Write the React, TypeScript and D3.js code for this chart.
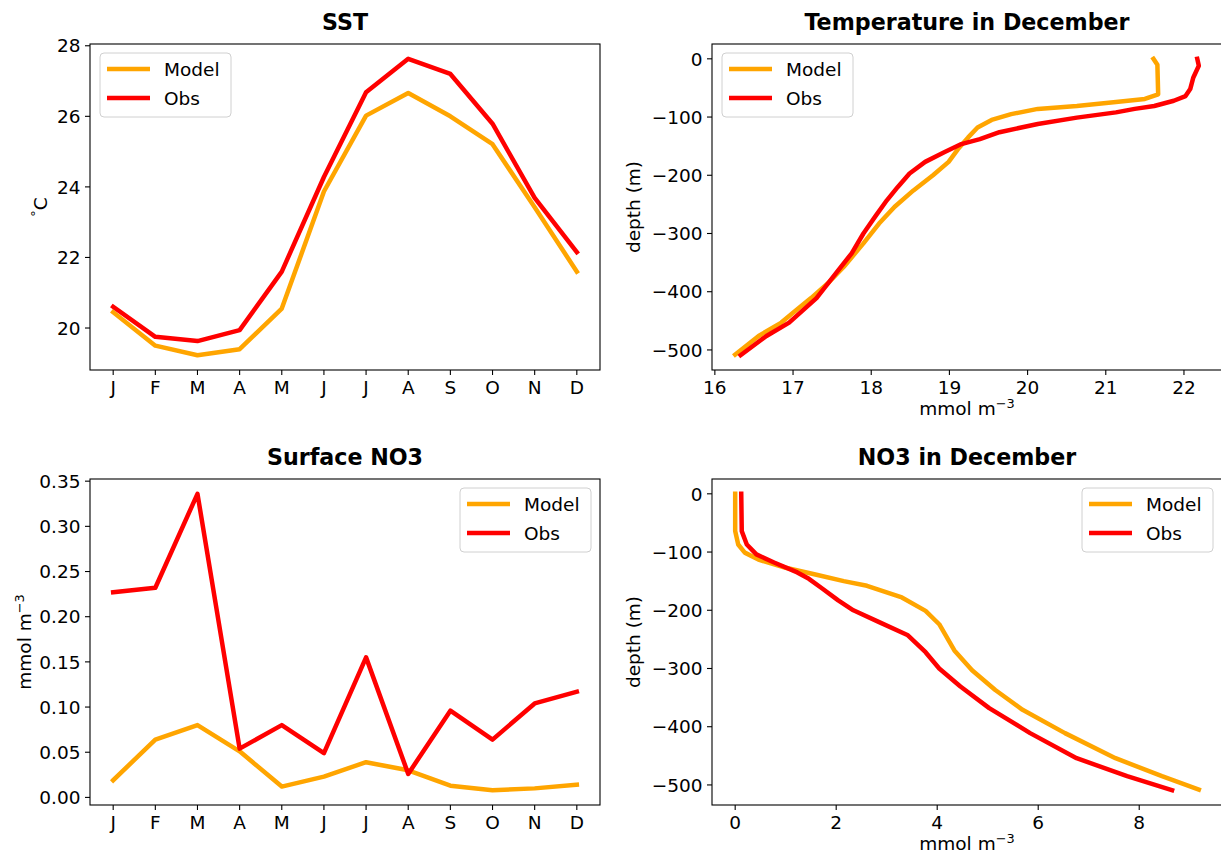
import React from "react";
import * as d3 from "d3";

// ---------- data ----------
const months = ["J", "F", "M", "A", "M", "J", "J", "A", "S", "O", "N", "D"];
const sstModel = [20.45, 19.5, 19.23, 19.4, 20.55, 23.87, 26.02, 26.66, 26.0, 25.21, 23.42, 21.6];
const sstObs = [20.6, 19.75, 19.63, 19.94, 21.6, 24.28, 26.68, 27.63, 27.2, 25.79, 23.69, 22.15];

const no3Model = [0.019, 0.064, 0.08, 0.051, 0.012, 0.023, 0.039, 0.03, 0.013, 0.008, 0.01, 0.014];
const no3Obs = [0.227, 0.232, 0.336, 0.054, 0.08, 0.049, 0.155, 0.026, 0.096, 0.064, 0.104, 0.117];

const tempModel = [21.61, 21.66, 21.67, 21.5, 21.13, 20.63, 20.13, 19.79, 19.54, 19.36, 19.24, 19.11, 18.99, 18.79, 18.54, 18.3, 18.1, 17.9, 17.65, 17.45, 17.23, 17.0, 16.85, 16.56, 16.26];
const tempModelDepth = [0, -10, -61, -69, -74, -81, -86, -95, -105, -118, -135, -155, -177, -200, -226, -254, -283, -317, -357, -385, -411, -436, -453, -476, -508];
const tempObs = [22.17, 22.19, 22.12, 22.08, 22.02, 21.87, 21.62, 21.37, 21.13, 20.63, 20.13, 19.64, 19.39, 19.14, 18.94, 18.69, 18.49, 18.34, 18.2, 18.05, 17.9, 17.75, 17.55, 17.3, 16.95, 16.66, 16.33];
const tempObsDepth = [0, -12, -32, -52, -64, -72, -81, -86, -92, -101, -112, -126, -138, -147, -160, -177, -197, -220, -243, -271, -300, -334, -368, -411, -453, -476, -509];

const nitModel = [0.0, 0.0, 0.06, 0.19, 0.46, 1.0, 1.61, 2.15, 2.61, 3.3, 3.77, 4.04, 4.34, 4.69, 5.15, 5.69, 6.53, 7.53, 8.45, 9.18];
const nitModelDepth = [0, -64, -87, -101, -113, -127, -139, -150, -158, -178, -201, -224, -269, -303, -337, -371, -411, -454, -485, -508];
const nitObs = [0.12, 0.13, 0.23, 0.42, 0.77, 1.23, 1.46, 1.73, 2.04, 2.34, 2.84, 3.42, 3.77, 4.04, 4.46, 5.03, 5.84, 6.76, 7.76, 8.65];
const nitObsDepth = [0, -64, -87, -104, -118, -135, -146, -163, -183, -200, -220, -243, -272, -300, -331, -368, -411, -454, -485, -509];

const sstTicks = [20, 22, 24, 26, 28];
const no3Ticks = [0, 0.05, 0.1, 0.15, 0.2, 0.25, 0.3, 0.35];
const depthTicks = [0, -100, -200, -300, -400, -500];
const tempTicks = [16, 17, 18, 19, 20, 21, 22];
const nitTicks = [0, 2, 4, 6, 8];
const seriesNames = ["Model", "Obs"];
const seriesColors = ["#FFA500", "#FF0000"];

// ---------- helpers ----------
const FONT = "DejaVu Sans, Verdana, sans-serif";
const FS = 18.5;
const LW = 4.5;
const minus = (s: string) => s.replace("-", "\u2212");

function padExtent(vals: number[]): [number, number] {
  const [a, b] = d3.extent(vals) as [number, number];
  const m = (b - a) * 0.05;
  return [a - m, b + m];
}

type Pt = [number, number];
type Series = { name: string; color: string; pts: Pt[] };

function Unit({ x, y, anchor = "middle", rotate = false }: any) {
  return (
    <text
      x={x}
      y={y}
      textAnchor={anchor}
      fontSize={FS}
      fontFamily={FONT}
      transform={rotate ? `rotate(-90 ${x} ${y})` : undefined}
    >
      mmol m
      <tspan fontSize={FS * 0.7} dy={-7}>{"\u22123"}</tspan>
    </text>
  );
}

function Panel(props: {
  id: string;
  left: number;
  top: number;
  w: number;
  h: number;
  xs: d3.ScaleLinear<number, number>;
  ys: d3.ScaleLinear<number, number>;
  xTicks: number[];
  xLabels: string[];
  yTicks: number[];
  yLabels: string[];
  series: Series[];
  title: string;
  legend: "left" | "right";
  ylabel: React.ReactNode;
  xlabel?: React.ReactNode;
}) {
  const { id, left, top, w, h, xs, ys, xTicks, xLabels, yTicks, yLabels, series, title, legend } = props;
  const line = d3
    .line<Pt>()
    .x((d) => xs(d[0]))
    .y((d) => ys(d[1]));
  const lw = 131;
  const lh = 64;
  const lx = legend === "left" ? left + 10 : left + w - 9 - lw;
  const ly = top + 9;
  return (
    <g>
      <defs>
        <clipPath id={id}>
          <rect x={left} y={top} width={w} height={h} />
        </clipPath>
      </defs>
      <g clipPath={`url(#${id})`}>
        {series.map((s) => (
          <path
            key={s.name}
            d={line(s.pts) || ""}
            fill="none"
            stroke={s.color}
            strokeWidth={LW}
            strokeLinejoin="round"
            strokeLinecap="square"
          />
        ))}
      </g>
      <rect x={left} y={top} width={w} height={h} fill="none" stroke="#000" strokeWidth={1.1} />
      {xTicks.map((t, i) => (
        <g key={"x" + i}>
          <line x1={xs(t)} x2={xs(t)} y1={top + h} y2={top + h + 5} stroke="#000" strokeWidth={1.1} />
          <text x={xs(t)} y={top + h + 23.5} textAnchor="middle" fontSize={FS} fontFamily={FONT}>
            {xLabels[i]}
          </text>
        </g>
      ))}
      {yTicks.map((t, i) => (
        <g key={"y" + i}>
          <line x1={left - 5} x2={left} y1={ys(t)} y2={ys(t)} stroke="#000" strokeWidth={1.1} />
          <text x={left - 9.5} y={ys(t) + 6.7} textAnchor="end" fontSize={FS} fontFamily={FONT}>
            {yLabels[i]}
          </text>
        </g>
      ))}
      <text x={left + w / 2} y={top - 14} textAnchor="middle" fontSize={FS * 1.2} fontWeight="bold" fontFamily={FONT}>
        {title}
      </text>
      <g>
        <rect x={lx} y={ly} width={lw} height={lh} rx={4} fill="#fff" fillOpacity={0.8} stroke="#d0d0d0" strokeWidth={1} />
        {series.map((s, i) => (
          <g key={"l" + i}>
            <line x1={lx + 7} x2={lx + 50} y1={ly + 16 + i * 29} y2={ly + 16 + i * 29} stroke={s.color} strokeWidth={LW} />
            <text x={lx + 64} y={ly + 16 + i * 29 + 6.7} fontSize={FS} fontFamily={FONT}>
              {s.name}
            </text>
          </g>
        ))}
      </g>
      {props.ylabel}
      {props.xlabel}
    </g>
  );
}

export default function App() {
  const W = 1221;
  const H = 854;
  const colL = 90;
  const colR = 712;
  const rowT = 44;
  const rowB = 479;
  const aw = 510;
  const ah = 326;

  const idx = months.map((_, i) => i);

  const x1 = d3.scaleLinear().domain(padExtent(idx)).range([colL, colL + aw]);
  const y1 = d3.scaleLinear().domain(padExtent([...sstModel, ...sstObs])).range([rowT + ah, rowT]);
  const x3 = d3.scaleLinear().domain(padExtent(idx)).range([colL, colL + aw]);
  const y3 = d3.scaleLinear().domain(padExtent([...no3Model, ...no3Obs])).range([rowB + ah, rowB]);
  const x2 = d3.scaleLinear().domain(padExtent([...tempModel, ...tempObs])).range([colR, colR + aw]);
  const y2 = d3.scaleLinear().domain(padExtent([...tempModelDepth, ...tempObsDepth])).range([rowT + ah, rowT]);
  const x4 = d3.scaleLinear().domain(padExtent([...nitModel, ...nitObs])).range([colR, colR + aw]);
  const y4 = d3.scaleLinear().domain(padExtent([...nitModelDepth, ...nitObsDepth])).range([rowB + ah, rowB]);

  const mk = (a: number[], b: number[]): Pt[] => a.map((v, i) => [v, b[i]] as Pt);
  const sstSeries: Series[] = [
    { name: seriesNames[0], color: seriesColors[0], pts: mk(idx, sstModel) },
    { name: seriesNames[1], color: seriesColors[1], pts: mk(idx, sstObs) },
  ];
  const no3Series: Series[] = [
    { name: seriesNames[0], color: seriesColors[0], pts: mk(idx, no3Model) },
    { name: seriesNames[1], color: seriesColors[1], pts: mk(idx, no3Obs) },
  ];
  const tempSeries: Series[] = [
    { name: seriesNames[0], color: seriesColors[0], pts: mk(tempModel, tempModelDepth) },
    { name: seriesNames[1], color: seriesColors[1], pts: mk(tempObs, tempObsDepth) },
  ];
  const nitSeries: Series[] = [
    { name: seriesNames[0], color: seriesColors[0], pts: mk(nitModel, nitModelDepth) },
    { name: seriesNames[1], color: seriesColors[1], pts: mk(nitObs, nitObsDepth) },
  ];

  const depthLabels = depthTicks.map((d) => minus(String(d)));

  return (
    <svg width={W} height={H} style={{ position: "absolute", left: 0, top: 0, background: "#fff" }}>
      <rect x={0} y={0} width={W} height={H} fill="#fff" />
      <Panel
        id="c1"
        left={colL}
        top={rowT}
        w={aw}
        h={ah}
        xs={x1}
        ys={y1}
        xTicks={idx}
        xLabels={months}
        yTicks={sstTicks}
        yLabels={sstTicks.map(String)}
        series={sstSeries}
        title="SST"
        legend="left"
        ylabel={
          <text x={47} y={rowT + ah / 2} textAnchor="middle" fontSize={FS} fontFamily={FONT} transform={`rotate(-90 47 ${rowT + ah / 2})`}>
            <tspan fontSize={FS * 0.7} dy={-7}>°</tspan>
            <tspan dy={7}>C</tspan>
          </text>
        }
      />
      <Panel
        id="c2"
        left={colR}
        top={rowT}
        w={aw}
        h={ah}
        xs={x2}
        ys={y2}
        xTicks={tempTicks}
        xLabels={tempTicks.map(String)}
        yTicks={depthTicks}
        yLabels={depthLabels}
        series={tempSeries}
        title="Temperature in December"
        legend="left"
        ylabel={
          <text x={640} y={rowT + ah / 2} textAnchor="middle" fontSize={FS} fontFamily={FONT} transform={`rotate(-90 640 ${rowT + ah / 2})`}>
            depth (m)
          </text>
        }
        xlabel={<Unit x={colR + aw / 2} y={415} />}
      />
      <Panel
        id="c3"
        left={colL}
        top={rowB}
        w={aw}
        h={ah}
        xs={x3}
        ys={y3}
        xTicks={idx}
        xLabels={months}
        yTicks={no3Ticks}
        yLabels={no3Ticks.map((t) => d3.format(".2f")(t))}
        series={no3Series}
        title="Surface NO3"
        legend="right"
        ylabel={<Unit x={31} y={rowB + ah / 2} rotate />}
      />
      <Panel
        id="c4"
        left={colR}
        top={rowB}
        w={aw}
        h={ah}
        xs={x4}
        ys={y4}
        xTicks={nitTicks}
        xLabels={nitTicks.map(String)}
        yTicks={depthTicks}
        yLabels={depthLabels}
        series={nitSeries}
        title="NO3 in December"
        legend="right"
        ylabel={
          <text x={640} y={rowB + ah / 2} textAnchor="middle" fontSize={FS} fontFamily={FONT} transform={`rotate(-90 640 ${rowB + ah / 2})`}>
            depth (m)
          </text>
        }
        xlabel={<Unit x={colR + aw / 2} y={850} />}
      />
    </svg>
  );
}
